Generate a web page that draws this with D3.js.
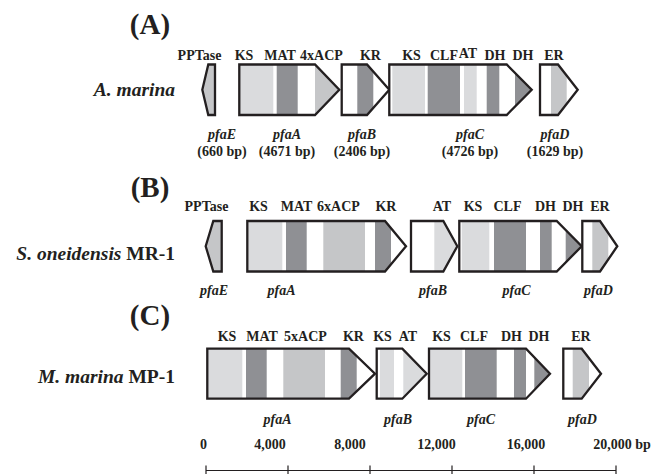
<!DOCTYPE html>
<html>
<head>
<meta charset="utf-8">
<script src="https://cdn.jsdelivr.net/npm/d3@7/dist/d3.min.js"></script>
<style>
  html, body { margin: 0; padding: 0; background: #fff; }
  svg { display: block; }
  text { font-family: "Liberation Serif", "Times New Roman", Times, serif; font-weight: bold; fill: #231f20; }
</style>
</head>
<body>
<svg id="chart" width="654" height="475"></svg>
<script>
// ---------------- DATA (bp) ----------------
const panels = ["(A)", "(B)", "(C)"];
const organisms = [
  [{t: "A. marina", i: true}],
  [{t: "S. oneidensis", i: true}, {t: " MR-1", i: false}],
  [{t: "M. marina", i: true}, {t: " MP-1", i: false}]
];

// genes: name, start, shoulder, end, direction (1 forward, -1 reverse), size label
const genesA = [
  {name: "pfaE", start: -180, shoulder: 112,   end: 439,   dir: -1, size: "(660 bp)"},
  {name: "pfaA", start: 1624, shoulder: 5317,  end: 6502,  dir: 1,  size: "(4671 bp)"},
  {name: "pfaB", start: 6620, shoulder: 7854,  end: 8941,  dir: 1,  size: "(2406 bp)"},
  {name: "pfaC", start: 8941, shoulder: 14668, end: 15888, dir: 1,  size: "(4726 bp)"},
  {name: "pfaD", start: 16293, shoulder: 17171, end: 18132, dir: 1, size: "(1629 bp)"}
];
const genesB = [
  {name: "pfaE", start: -15,   shoulder: 356,   end: 766,   dir: -1},
  {name: "pfaA", start: 2015,  shoulder: 8732,  end: 9756,  dir: 1},
  {name: "pfaB", start: 10000, shoulder: 11576, end: 12259, dir: 1},
  {name: "pfaC", start: 12356, shoulder: 17107, end: 18327, dir: 1},
  {name: "pfaD", start: 18356, shoulder: 19220, end: 20063, dir: 1}
];
const genesC = [
  {name: "pfaA", start: 63,    shoulder: 6976,  end: 8244,  dir: 1},
  {name: "pfaB", start: 8327,  shoulder: 9576,  end: 10766, dir: 1},
  {name: "pfaC", start: 10878, shoulder: 15610, end: 16780, dir: 1},
  {name: "pfaD", start: 17429, shoulder: 18327, end: 19268, dir: 1}
];

// domains: gene, from, to, type
const domainsA = [
  ["pfaE", -180, 439, "acp"],
  ["pfaA", 1624, 3283, "ks"], ["pfaA", 3449, 4473, "dark"], ["pfaA", 5317, 6502, "acp"],
  ["pfaB", 7380, 8161, "dark"],
  ["pfaC", 9088, 10683, "ks"], ["pfaC", 10815, 12390, "dark"], ["pfaC", 12585, 13205, "ks"],
  ["pfaC", 13693, 14307, "dark"], ["pfaC", 15073, 15888, "dark"],
  ["pfaD", 16829, 17595, "acp"]
];
const domainsB = [
  ["pfaE", -15, 766, "acp"],
  ["pfaA", 2015, 3722, "ks"], ["pfaA", 3902, 4912, "dark"], ["pfaA", 5722, 7756, "acp"], ["pfaA", 8244, 9024, "dark"],
  ["pfaB", 11137, 12259, "ks"],
  ["pfaC", 12473, 13820, "ks"], ["pfaC", 14049, 15610, "dark"], ["pfaC", 16293, 16863, "dark"], ["pfaC", 17546, 18327, "dark"],
  ["pfaD", 18844, 19624, "acp"]
];
const domainsC = [
  ["pfaA", 63, 1771, "ks"], ["pfaA", 1951, 2961, "dark"], ["pfaA", 3771, 5805, "acp"], ["pfaA", 6571, 7351, "dark"],
  ["pfaB", 8488, 9171, "ks"], ["pfaB", 9624, 10766, "ks"],
  ["pfaC", 10878, 12502, "ks"], ["pfaC", 12634, 14180, "dark"], ["pfaC", 15024, 15610, "dark"], ["pfaC", 16015, 16780, "dark"],
  ["pfaD", 17888, 18683, "acp"]
];

// domain labels: text, centre (bp)
const domLabelsA = [["PPTase", -317], ["KS", 1854], ["MAT", 3610], ["4xACP", 5634], ["KR", 8024],
  ["KS", 10024], ["CLF", 11610], ["AT", 12780], ["DH", 14098], ["DH", 15463], ["ER", 16976]];
const domLabelsB = [["PPTase", 24], ["KS", 2561], ["MAT", 4415], ["6xACP", 6463], ["KR", 8780],
  ["AT", 11512], ["KS", 13024], ["CLF", 14707], ["DH", 16561], ["DH", 17902], ["ER", 19220]];
const domLabelsC = [["KS", 1024], ["MAT", 2732], ["5xACP", 4854], ["KR", 7195], ["KS", 8610],
  ["AT", 9854], ["KS", 11488], ["CLF", 13073], ["DH", 14902], ["DH", 16244], ["ER", 18293]];

// gene name label centres (bp)
const geneLabelsA = [["pfaE", 780], ["pfaA", 3951], ["pfaB", 7610], ["pfaC", 12878], ["pfaD", 17024]];
const geneLabelsB = [["pfaE", 390], ["pfaA", 3683], ["pfaB", 11073], ["pfaC", 15146], ["pfaD", 19146]];
const geneLabelsC = [["pfaA", 3488], ["pfaB", 9366], ["pfaC", 13415], ["pfaD", 18366]];

const tickValues = [0, 4000, 8000, 12000, 16000, 20000];
const tickLabels = ["0", "4,000", "8,000", "12,000", "16,000", "20,000 bp"];

// ---------------- LAYOUT ----------------
const colors = {ks: "#dadbdd", acp: "#c5c6c8", dark: "#8f9094", stroke: "#231f20"};
const rowLayout = [
  {top: 64.5, h: 50.5, panelY: 33.5, orgY: 96, domY: 60, geneY: 138.5, sizeY: 155.5, domDy: {AT: -2}},
  {top: 221,  h: 50.5, panelY: 196.5, orgY: 260, domY: 210.5, geneY: 295, sizeY: null, domDy: {}},
  {top: 348.7, h: 50, panelY: 324.5, orgY: 383, domY: 340.5, geneY: 423.5, sizeY: null, domDy: {}}
];
const tickLabelShift = [-2.5, -18, -20, -15.5, -8, 6];

const svg = d3.select("#chart");
const x = d3.scaleLinear().domain([0, 20000]).range([206, 616]);

const rows = [
  {genes: genesA, domains: domainsA, domLabels: domLabelsA, geneLabels: geneLabelsA},
  {genes: genesB, domains: domainsB, domLabels: domLabelsB, geneLabels: geneLabelsB},
  {genes: genesC, domains: domainsC, domLabels: domLabelsC, geneLabels: geneLabelsC}
];

const defs = svg.append("defs");

function genePoints(g, top, h) {
  const y0 = top, y1 = top + h, ym = top + h / 2;
  if (g.dir > 0) {
    return [[x(g.start), y0], [x(g.shoulder), y0], [x(g.end), ym], [x(g.shoulder), y1], [x(g.start), y1]];
  }
  return [[x(g.start), ym], [x(g.shoulder), y0], [x(g.end), y0], [x(g.end), y1], [x(g.shoulder), y1]];
}

rows.forEach((row, ri) => {
  const L = rowLayout[ri];
  const gRow = svg.append("g");

  // panel letter
  gRow.append("text").attr("x", 150).attr("y", L.panelY).attr("text-anchor", "middle")
    .style("font-size", "29px").text(panels[ri]);

  // organism label
  const org = gRow.append("text").attr("x", 175).attr("y", L.orgY).attr("text-anchor", "end")
    .style("font-size", "19.5px");
  organisms[ri].forEach(p => org.append("tspan").style("font-style", p.i ? "italic" : "normal").text(p.t));

  // genes
  row.genes.forEach((g, gi) => {
    const pts = genePoints(g, L.top, L.h);
    const id = `clip-${ri}-${gi}`;
    defs.append("clipPath").attr("id", id).append("polygon").attr("points", pts.join(" "));
    const gg = gRow.append("g");
    gg.append("polygon").attr("points", pts.join(" ")).attr("fill", "#fff");
    gg.append("g").attr("clip-path", `url(#${id})`)
      .selectAll("rect").data(row.domains.filter(d => d[0] === g.name)).join("rect")
      .attr("x", d => x(d[1])).attr("width", d => x(d[2]) - x(d[1]))
      .attr("y", L.top - 2).attr("height", L.h + 4)
      .attr("fill", d => colors[d[3]]);
    gg.append("polygon").attr("points", pts.join(" ")).attr("fill", "none")
      .attr("stroke", colors.stroke).attr("stroke-width", 2.3).attr("stroke-linejoin", "miter");
  });

  // domain labels
  gRow.selectAll("text.dom").data(row.domLabels).join("text").attr("class", "dom")
    .attr("x", d => x(d[1])).attr("y", d => L.domY + (L.domDy[d[0]] || 0))
    .attr("text-anchor", "middle").style("font-size", "14px").text(d => d[0]);

  // gene labels
  gRow.selectAll("text.gene").data(row.geneLabels).join("text").attr("class", "gene")
    .attr("x", d => x(d[1])).attr("y", L.geneY)
    .attr("text-anchor", "middle").style("font-size", "14px").style("font-style", "italic").text(d => d[0]);

  if (L.sizeY !== null) {
    gRow.selectAll("text.size").data(row.geneLabels).join("text").attr("class", "size")
      .attr("x", d => x(d[1])).attr("y", L.sizeY)
      .attr("text-anchor", "middle").style("font-size", "14px")
      .text(d => row.genes.find(g => g.name === d[0]).size);
  }
});

// scale bar
const axisY = 470.5;
const ax = svg.append("g");
ax.append("line").attr("x1", x(0)).attr("x2", x(20000)).attr("y1", axisY).attr("y2", axisY)
  .attr("stroke", colors.stroke).attr("stroke-width", 1.2);
ax.selectAll("line.tick").data(tickValues).join("line").attr("class", "tick")
  .attr("x1", d => x(d)).attr("x2", d => x(d)).attr("y1", axisY - 5).attr("y2", axisY + 3.5)
  .attr("stroke", colors.stroke).attr("stroke-width", 1.2);
ax.selectAll("text.tl").data(tickValues).join("text").attr("class", "tl")
  .attr("x", (d, i) => x(d) + tickLabelShift[i]).attr("y", 449)
  .attr("text-anchor", "middle").style("font-size", "14px").text((d, i) => tickLabels[i]);
</script>
</body>
</html>
